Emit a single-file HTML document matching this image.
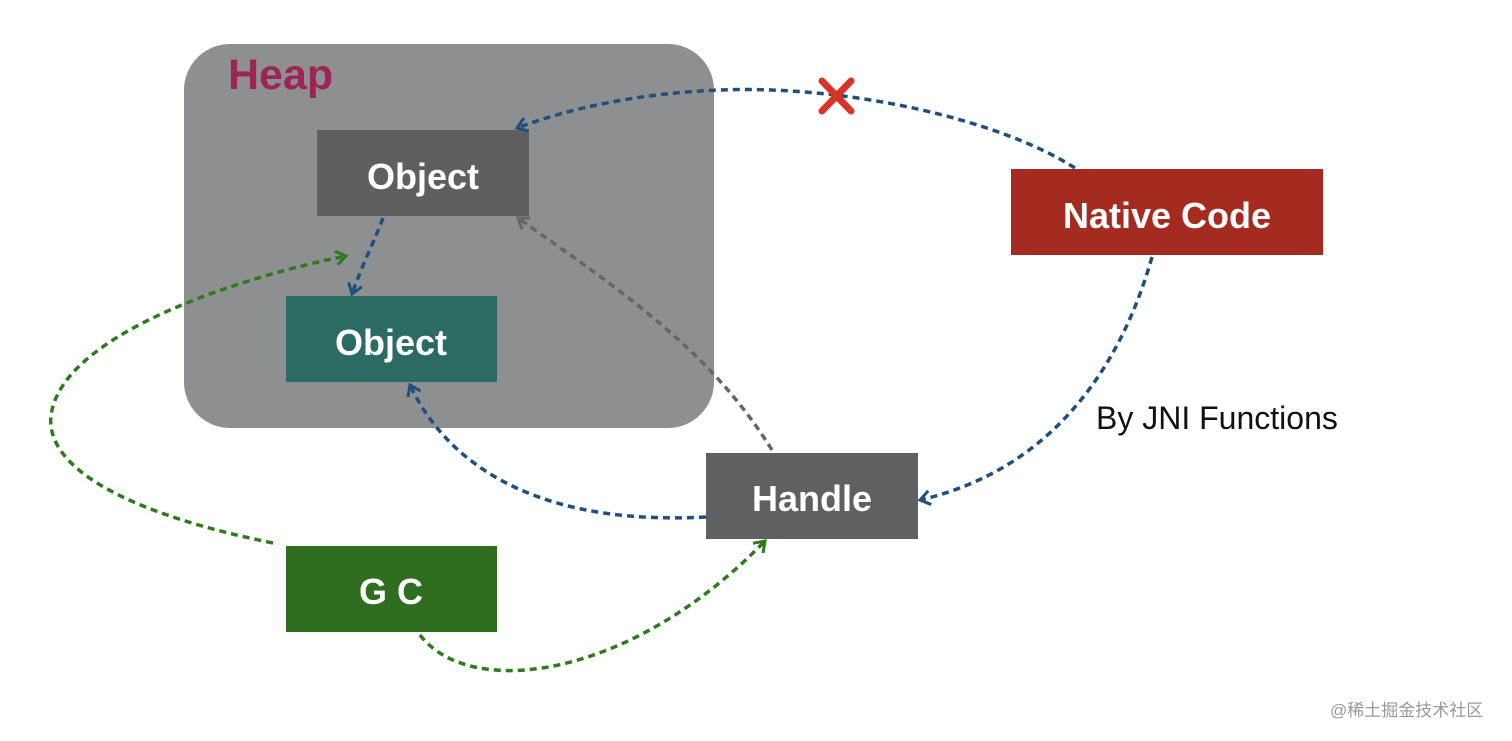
<!DOCTYPE html>
<html><head><meta charset="utf-8"><style>
html,body{margin:0;padding:0;background:#fff;width:1512px;height:741px;overflow:hidden}
svg{display:block}
text{font-family:"Liberation Sans",Arial,sans-serif}
</style></head><body>
<svg width="1512" height="741" viewBox="0 0 1512 741" xmlns="http://www.w3.org/2000/svg">
<defs>
<marker id="ab" markerWidth="16" markerHeight="16" refX="13" refY="8" orient="auto" markerUnits="userSpaceOnUse"><path d="M3,1 L13,8 L3,15" fill="none" stroke="#1f4f80" stroke-width="3"/></marker>
<marker id="ag" markerWidth="16" markerHeight="16" refX="13" refY="8" orient="auto" markerUnits="userSpaceOnUse"><path d="M3,1 L13,8 L3,15" fill="none" stroke="#2f7a1f" stroke-width="3"/></marker>
<marker id="ay" markerWidth="16" markerHeight="16" refX="13" refY="8" orient="auto" markerUnits="userSpaceOnUse"><path d="M3,1 L13,8 L3,15" fill="none" stroke="#666" stroke-width="3"/></marker>
</defs>
<rect x="184" y="44" width="530" height="384" rx="46" fill="#8e8f91"/>
<text x="228" y="89" font-size="43" font-weight="bold" fill="#9c2556">Heap</text>
<rect x="317" y="130" width="212" height="86" fill="#5f5f61"/>
<text x="423" y="189" font-size="36" font-weight="bold" fill="#fff" text-anchor="middle">Object</text>
<rect x="286" y="296" width="211" height="86" fill="#2b6b63"/>
<text x="391" y="355" font-size="36" font-weight="bold" fill="#fff" text-anchor="middle">Object</text>
<rect x="1011" y="169" width="312" height="86" fill="#a52a1f"/>
<text x="1167" y="228" font-size="36" font-weight="bold" fill="#fff" text-anchor="middle">Native Code</text>
<rect x="706" y="453" width="212" height="86" fill="#5f6062"/>
<text x="812" y="511" font-size="36" font-weight="bold" fill="#fff" text-anchor="middle">Handle</text>
<rect x="286" y="546" width="211" height="86" fill="#2f6e1f"/>
<text x="391" y="604" font-size="36" font-weight="bold" fill="#fff" text-anchor="middle">G C</text>
<text x="1096" y="429" font-size="32" fill="#111">By JNI Functions</text>
<g fill="none" stroke-width="3.5" stroke-dasharray="7 5">
<path d="M1075,168 C1000,120 850,85 720,90 C640,93 570,108 517,128" stroke="#1f4f80" marker-end="url(#ab)"/>
<path d="M383,218 C375,240 362,265 352,294" stroke="#1f4f80" marker-end="url(#ab)"/>
<path d="M1152,257 C1120,370 1050,470 920,500" stroke="#1f4f80" marker-end="url(#ab)"/>
<path d="M706,517 C560,525 455,480 410,385" stroke="#1f4f80" marker-end="url(#ab)"/>
<path d="M772,450 C710,350 620,290 518,218" stroke="#666" marker-end="url(#ay)"/>
<path d="M273,543 C110,510 40,460 52,410 C70,330 250,275 346,256" stroke="#2f7a1f" marker-end="url(#ag)"/>
<path d="M420,635 C470,700 630,680 765,541" stroke="#2f7a1f" marker-end="url(#ag)"/>
</g>
<g stroke="#d9332a" stroke-width="7" stroke-linecap="round">
<line x1="822" y1="81" x2="851" y2="111"/><line x1="851" y1="81" x2="822" y2="111"/>
</g>
<text x="1330" y="716" font-size="17" fill="#999" font-family="'Liberation Sans','Noto Sans CJK SC',sans-serif">@稀土掘金技术社区</text>
</svg>
</body></html>
